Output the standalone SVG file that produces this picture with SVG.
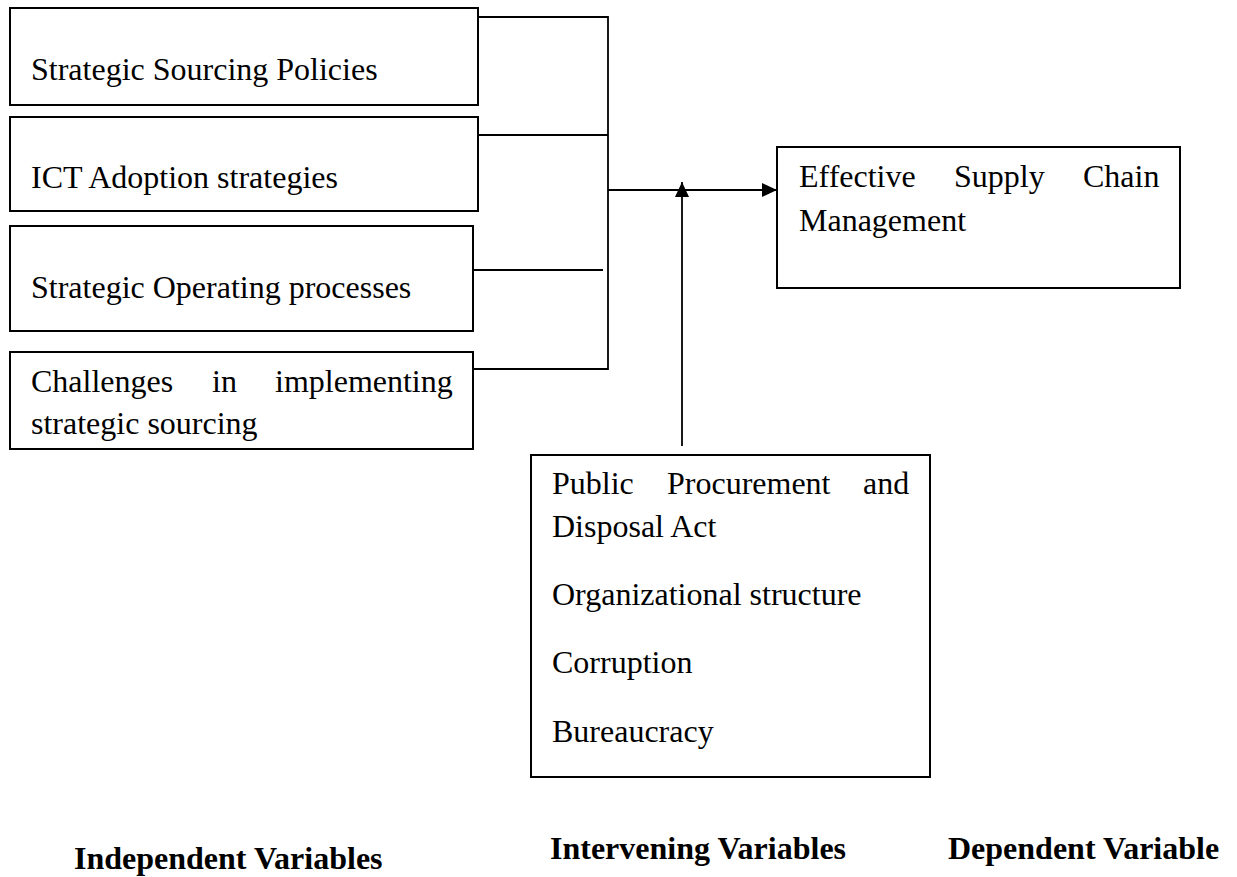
<svg xmlns="http://www.w3.org/2000/svg" width="1237" height="877" viewBox="0 0 1237 877">
<style>
.box{fill:#fff;stroke:#000;stroke-width:2}
.t{font-family:"Liberation Serif","Times New Roman",serif;font-size:32px;fill:#000}
.b{font-family:"Liberation Serif","Times New Roman",serif;font-size:32px;font-weight:bold;fill:#000}
.c{stroke:#000;stroke-width:1.8;fill:none}
</style>
<defs>
<marker id="ah" viewBox="0 0 15 14" refX="15" refY="7" markerWidth="15" markerHeight="14" markerUnits="userSpaceOnUse" orient="auto">
<path d="M0,0 L15,7 L0,14 Z" fill="#000"/>
</marker>
</defs>
<rect width="1237" height="877" fill="#fff"/>
<g id="connectors">
<line class="c" x1="478" y1="17" x2="608" y2="17"/>
<line class="c" x1="478" y1="135" x2="608" y2="135"/>
<line class="c" x1="473" y1="270" x2="603" y2="270"/>
<line class="c" x1="473" y1="369" x2="608" y2="369"/>
<line class="c" x1="608" y1="16" x2="608" y2="370"/>
<line class="c" x1="608" y1="190" x2="777" y2="190" marker-end="url(#ah)"/>
<line class="c" x1="682" y1="446" x2="682" y2="182" marker-end="url(#ah)"/>
</g>
<g id="n1">
<rect class="box" x="10" y="8" width="468" height="97"/>
<text class="t" x="31" y="80">Strategic Sourcing Policies</text>
</g>
<g id="n2">
<rect class="box" x="10" y="117" width="468" height="94"/>
<text class="t" x="31" y="188">ICT Adoption strategies</text>
</g>
<g id="n3">
<rect class="box" x="10" y="226" width="463" height="105"/>
<text class="t" x="31" y="298">Strategic Operating processes</text>
</g>
<g id="n4">
<rect class="box" x="10" y="352" width="463" height="97"/>
<text class="t" y="392"><tspan x="31">Challenges</tspan><tspan x="212">in</tspan><tspan x="275">implementing</tspan></text>
<text class="t" x="31" y="434">strategic sourcing</text>
</g>
<g id="n5">
<rect class="box" x="777" y="147" width="403" height="141"/>
<text class="t" y="187"><tspan x="799">Effective</tspan><tspan x="954">Supply</tspan><tspan x="1083">Chain</tspan></text>
<text class="t" x="799" y="231">Management</text>
</g>
<g id="n6">
<rect class="box" x="531" y="455" width="399" height="322"/>
<text class="t" y="494"><tspan x="552">Public</tspan><tspan x="667">Procurement</tspan><tspan x="863">and</tspan></text>
<text class="t" x="552" y="537">Disposal Act</text>
<text class="t" x="552" y="605">Organizational structure</text>
<text class="t" x="552" y="673">Corruption</text>
<text class="t" x="552" y="742">Bureaucracy</text>
</g>
<g id="labels">
<text class="b" x="74" y="869">Independent Variables</text>
<text class="b" x="550" y="859">Intervening Variables</text>
<text class="b" x="948" y="859">Dependent Variable</text>
</g>
</svg>
